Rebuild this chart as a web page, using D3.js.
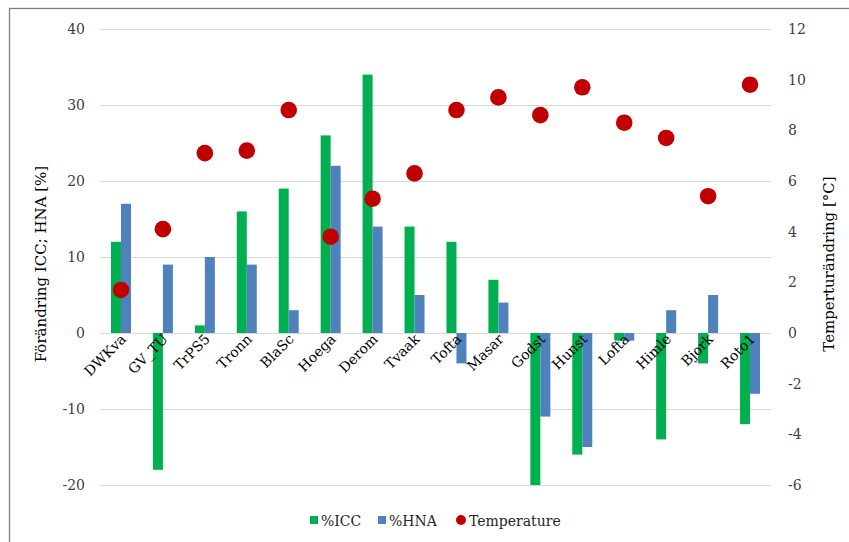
<!DOCTYPE html>
<html><head><meta charset="utf-8">
<script src="https://cdn.jsdelivr.net/npm/d3@7"></script>
<style>body{margin:0;background:#fff}svg{display:block}</style>
</head><body>
<svg id="c" width="849" height="542"></svg>
<script>
const categories = ["DWKva","GV_TU","TrPS5","Tronn","BlaSc","Hoega","Derom","Tvaak","Tofta","Masar","Godst","Hunst","Lofta","Himle","Bjork","Roto1"];
const icc = [12,-18,1,16,19,26,34,14,12,7,-20,-16,-1,-14,-4,-12];
const hna = [17,9,10,9,3,22,14,5,-4,4,-11,-15,-1,3,5,-8];
const temperature = [1.7,4.1,7.1,7.2,8.8,3.8,5.3,6.3,8.8,9.3,8.6,9.7,8.3,7.7,5.4,9.8];
const leftTicks = [-20,-10,0,10,20,30,40];
const rightTicks = [-6,-4,-2,0,2,4,6,8,10,12];
const seriesNames = ["%ICC","%HNA","Temperature"];
const colors = {icc:"#00B050", hna:"#4F81BD", temp:"#C00000"};
const font = "DejaVu Serif";

const svg = d3.select("#c");
const pLeft = 100, pRight = 771, pTop = 29, pBottom = 485;

svg.append("rect").attr("x",9.5).attr("y",8.5).attr("width",860).attr("height",560)
  .attr("fill","none").attr("stroke","#7f7f7f").attr("stroke-width",1.3);

const x = d3.scaleBand().domain(categories).range([pLeft,pRight]);
const yL = d3.scaleLinear().domain([-20,40]).range([pBottom,pTop]);
const yR = d3.scaleLinear().domain([-6,12]).range([pBottom,pTop]);

// gridlines
svg.append("g").selectAll("line").data(leftTicks).join("line")
  .attr("x1",pLeft).attr("x2",pRight).attr("y1",d=>yL(d)+0.5).attr("y2",d=>yL(d)+0.5)
  .attr("stroke","#d9d9d9").attr("stroke-width",1);

// left axis
const axL = svg.append("g").attr("transform",`translate(${pLeft-15},0)`)
  .call(d3.axisLeft(yL).tickValues(leftTicks).tickSize(0).tickPadding(0).tickFormat(d=>String(d)));
axL.select(".domain").remove();
axL.selectAll("text").attr("font-family",font).attr("font-size",14).attr("fill","#404040");

// right axis
const axR = svg.append("g").attr("transform",`translate(${pRight+17},0)`)
  .call(d3.axisRight(yR).tickValues(rightTicks).tickSize(0).tickPadding(0).tickFormat(d=>String(d)));
axR.select(".domain").remove();
axR.selectAll("text").attr("font-family",font).attr("font-size",14).attr("fill","#404040");

const bw = 10;
// bars
svg.append("g").selectAll("rect").data(icc).join("rect")
  .attr("x",(d,i)=>x(categories[i])+x.bandwidth()/2-bw)
  .attr("width",bw)
  .attr("y",d=>yL(Math.max(0,d)))
  .attr("height",d=>Math.abs(yL(d)-yL(0)))
  .attr("fill",colors.icc);
svg.append("g").selectAll("rect").data(hna).join("rect")
  .attr("x",(d,i)=>x(categories[i])+x.bandwidth()/2)
  .attr("width",bw)
  .attr("y",d=>yL(Math.max(0,d)))
  .attr("height",d=>Math.abs(yL(d)-yL(0)))
  .attr("fill",colors.hna);

// category labels
svg.append("g").selectAll("text").data(categories).join("text")
  .attr("transform",d=>`translate(${x(d)+x.bandwidth()/2+6},${yL(0)+7}) rotate(-45)`)
  .attr("text-anchor","end").attr("font-family",font).attr("font-size",14).attr("fill","#000")
  .text(d=>d);

// temperature dots
svg.append("g").selectAll("circle").data(temperature).join("circle")
  .attr("cx",(d,i)=>x(categories[i])+x.bandwidth()/2)
  .attr("cy",d=>yR(d))
  .attr("r",8.3).attr("fill",colors.temp);

// axis titles
svg.append("text").attr("transform",`translate(46,264) rotate(-90)`)
  .attr("text-anchor","middle").attr("font-family",font).attr("font-size",15).attr("fill","#000")
  .text("Förändring ICC; HNA [%]");
svg.append("text").attr("transform",`translate(834,264) rotate(-90)`)
  .attr("text-anchor","middle").attr("font-family",font).attr("font-size",15).attr("fill","#000")
  .text("Temperturändring [°C]");

// legend
const lg = svg.append("g").attr("font-family",font).attr("font-size",14).attr("fill","#262626");
const ly = 521;
lg.append("rect").attr("x",310).attr("y",ly-5).attr("width",8).attr("height",8).attr("fill",colors.icc);
lg.append("text").attr("x",321).attr("y",ly+5).text(seriesNames[0]);
lg.append("rect").attr("x",378).attr("y",ly-5).attr("width",8).attr("height",8).attr("fill",colors.hna);
lg.append("text").attr("x",389).attr("y",ly+5).text(seriesNames[1]);
lg.append("circle").attr("cx",461).attr("cy",ly-1).attr("r",5).attr("fill",colors.temp);
lg.append("text").attr("x",469).attr("y",ly+5).text(seriesNames[2]);
</script>
</body></html>
